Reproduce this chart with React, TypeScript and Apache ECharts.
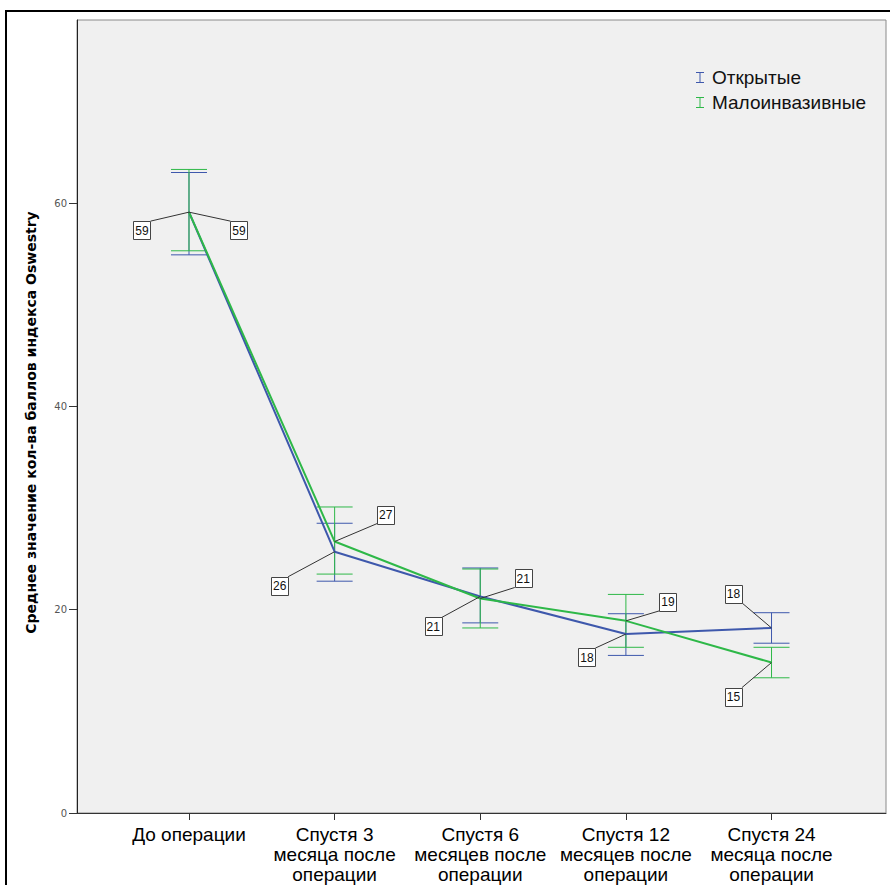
import React, { useEffect, useRef } from "react";
import * as echarts from "echarts";

const categories = [
  "До операции",
  "Спустя 3\nмесяца после\nоперации",
  "Спустя 6\nмесяцев после\nоперации",
  "Спустя 12\nмесяцев после\nоперации",
  "Спустя 24\nмесяца после\nоперации",
];
const yTicks = [0, 20, 40, 60];

const openName = "Открытые";
const openMean = [59.1, 25.7, 21.3, 17.6, 18.2];
const openLow = [54.9, 22.8, 18.7, 15.5, 16.7];
const openHigh = [63.0, 28.5, 24.1, 19.6, 19.7];

const miName = "Малоинвазивные";
const miMean = [59.1, 26.7, 21.1, 18.9, 14.8];
const miLow = [55.3, 23.5, 18.2, 16.3, 13.3];
const miHigh = [63.3, 30.1, 24.0, 21.5, 16.3];

// pixel offsets of the value-label boxes from their points (style only)
const openLabelOffset = [[-47, 18], [-55, 34], [-47, 30], [-39, 23], [-38, -34]];
const miLabelOffset = [[50, 18], [51, -27], [43, -20], [42, -19], [-38, 34]];

const BLUE = "#3E58AC";
const GREEN = "#2EB848";
const FONT = "'Liberation Sans', Arial, sans-serif";
const TITLE_FONT = "'DejaVu Sans', Verdana, sans-serif";

function errorSeries(name: string, low: number[], high: number[], color: string) {
  return {
    name,
    type: "custom",
    data: low.map((l, i) => [i, l, high[i]]),
    encode: { x: 0, y: [1, 2] },
    z: 3,
    renderItem: (params: any, api: any) => {
      const x = api.value(0);
      const lo = api.coord([x, api.value(1)]);
      const hi = api.coord([x, api.value(2)]);
      const hw = 18;
      const st = { stroke: color, lineWidth: 1 };
      return {
        type: "group",
        children: [
          { type: "line", shape: { x1: lo[0], y1: lo[1], x2: hi[0], y2: hi[1] }, style: st },
          { type: "line", shape: { x1: lo[0] - hw, y1: lo[1], x2: lo[0] + hw, y2: lo[1] }, style: st },
          { type: "line", shape: { x1: hi[0] - hw, y1: hi[1], x2: hi[0] + hw, y2: hi[1] }, style: st },
        ],
      };
    },
  };
}

function labelSeries(name: string, mean: number[], offs: number[][]) {
  return {
    name,
    type: "custom",
    data: mean.map((m, i) => [i, m]),
    encode: { x: 0, y: 1 },
    z: 10,
    renderItem: (params: any, api: any) => {
      const i = params.dataIndex;
      const v = api.value(1);
      const p = api.coord([api.value(0), v]);
      const dx = offs[i][0];
      const dy = offs[i][1];
      const cx = p[0] + dx;
      const cy = p[1] + dy;
      const w = 17;
      const h = 18;
      const corner = [cx - Math.sign(dx) * w / 2, cy - Math.sign(dy) * h / 2];
      return {
        type: "group",
        children: [
          { type: "line", shape: { x1: p[0], y1: p[1], x2: corner[0], y2: corner[1] }, style: { stroke: "#333", lineWidth: 1 } },
          { type: "rect", shape: { x: Math.round(cx - w / 2) + 0.5, y: Math.round(cy - h / 2) + 0.5, width: w, height: h }, style: { fill: "#fff", stroke: "#444", lineWidth: 1 } },
          { type: "text", x: cx, y: cy + 0.5, style: { text: String(Math.round(v)), fill: "#111", fontSize: 12, fontFamily: FONT, align: "center", verticalAlign: "middle" } },
        ],
      };
    },
  };
}

export default function App() {
  const ref = useRef<HTMLDivElement>(null);
  useEffect(() => {
    if (!ref.current) return;
    const chart = echarts.init(ref.current, null, { renderer: "svg" });
    const idx = categories.map((_, i) => i);
    chart.setOption({
      animation: false,
      backgroundColor: "#fff",
      textStyle: { fontFamily: FONT },
      graphic: [
        {
          type: "rect",
          shape: { x: 6, y: 11, width: 1000, height: 1000 },
          style: { fill: "none", stroke: "#000", lineWidth: 2 },
          z: 100,
        },
      ],
      grid: {
        left: 77,
        right: 4,
        top: 20,
        bottom: 72,
        containLabel: false,
        outerBoundsMode: "none",
        show: true,
        backgroundColor: "#F0F0F0",
        borderColor: "#8a8a8a",
        borderWidth: 1,
      },
      legend: {
        orient: "vertical",
        left: 691,
        top: 63,
        itemWidth: 8,
        itemHeight: 11,
        itemGap: 6,
        data: [
          { name: openName, icon: "path://M0,0H8V1H4.5V10H8V11H0V10H3.5V1H0Z", itemStyle: { color: BLUE } },
          { name: miName, icon: "path://M0,0H8V1H4.5V10H8V11H0V10H3.5V1H0Z", itemStyle: { color: GREEN } },
        ],
        textStyle: { fontSize: 19, color: "#111", fontFamily: FONT, padding: [0, 0, 0, 3] },
      },
      xAxis: {
        type: "value",
        min: -0.769,
        max: 4.786,
        splitLine: { show: false },
        axisLine: { show: true, onZero: false, lineStyle: { color: "#333", width: 1 } },
        axisTick: { show: true, customValues: idx, length: 7, lineStyle: { color: "#333" } },
        axisLabel: {
          customValues: idx,
          formatter: (v: number) => categories[Math.round(v)],
          fontSize: 19,
          lineHeight: 20,
          color: "#000",
          margin: 11,
          fontFamily: FONT,
        },
      },
      yAxis: {
        type: "value",
        min: 0,
        max: 78,
        interval: 20,
        name: "Среднее значение кол-ва баллов индекса Oswestry",
        nameLocation: "middle",
        nameGap: 39,
        nameTextStyle: { fontSize: 14, fontWeight: "bold", color: "#000", fontFamily: TITLE_FONT, padding: [0, 12, 0, 0] },
        splitLine: { show: false },
        axisLine: { show: true, onZero: false, lineStyle: { color: "#222", width: 1 } },
        axisTick: { show: true, customValues: yTicks, length: 8, lineStyle: { color: "#333" } },
        axisLabel: {
          customValues: yTicks,
          fontSize: 10,
          color: "#555",
          margin: 10,
          fontFamily: TITLE_FONT,
        },
      },
      series: [
        errorSeries(openName, openLow, openHigh, BLUE),
        errorSeries(miName, miLow, miHigh, GREEN),
        {
          name: openName,
          type: "line",
          data: openMean.map((m, i) => [i, m]),
          showSymbol: false,
          symbol: "none",
          itemStyle: { color: BLUE },
          lineStyle: { color: BLUE, width: 2 },
          z: 5,
        },
        {
          name: miName,
          type: "line",
          data: miMean.map((m, i) => [i, m]),
          showSymbol: false,
          symbol: "none",
          itemStyle: { color: GREEN },
          lineStyle: { color: GREEN, width: 2 },
          z: 6,
        },
        labelSeries(openName, openMean, openLabelOffset),
        labelSeries(miName, miMean, miLabelOffset),
      ],
    });
    return () => chart.dispose();
  }, []);
  return (
    <div
      ref={ref}
      style={{ position: "fixed", left: 0, top: 0, width: 890, height: 885 }}
    />
  );
}
